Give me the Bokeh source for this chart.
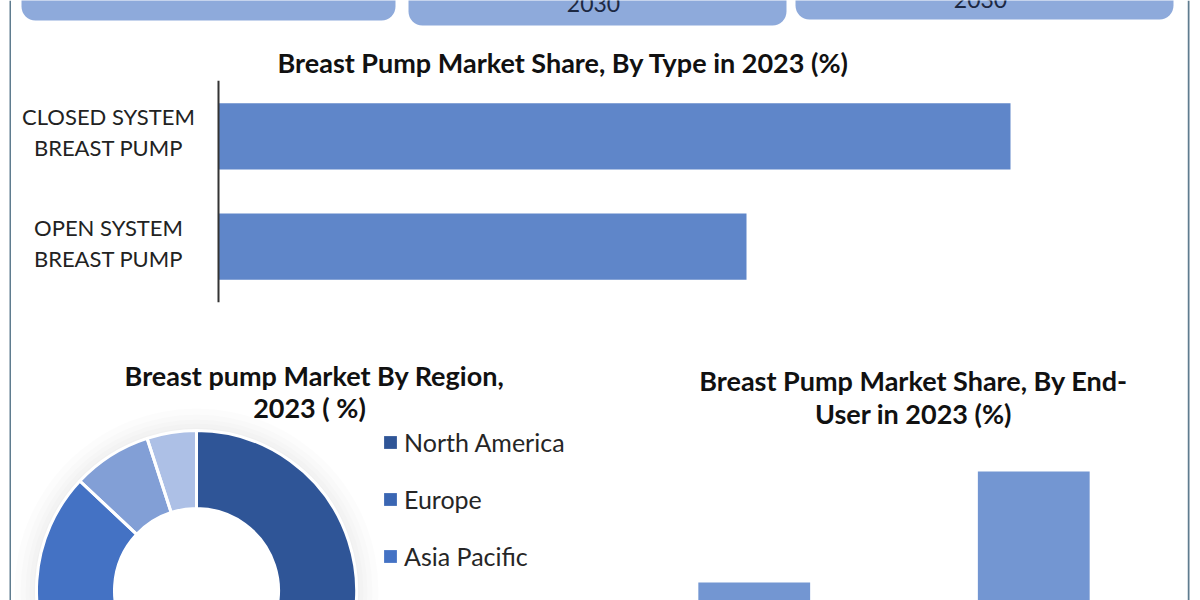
from bokeh.plotting import figure
from bokeh.layouts import row, column
from bokeh.models import (Range1d, FactorRange, BoxAnnotation, Label, Legend,
                          LegendItem, ColumnDataSource, Span)
from bokeh.embed import file_html
from bokeh.resources import INLINE
from bokeh.core.properties import value
import math

# ---------------- data ----------------
header_texts = ["", "2030", "2030"]

type_title = "Breast Pump Market Share, By Type in 2023 (%)"
type_categories = ["CLOSED SYSTEM\nBREAST PUMP", "OPEN SYSTEM\nBREAST PUMP"]
type_shares = [60, 40]

region_title = ["Breast pump Market By Region,", "2023 ( %)"]
region_names = ["North America", "Europe", "Asia Pacific",
                "Middle East & Africa", "South America"]
region_shares = [40, 25, 22, 8, 5]
region_colors = ["#2f5597", "#3a66b3", "#4472c4", "#829fd6", "#adc0e6"]

end_title = ["Breast Pump Market Share, By End-", "User in 2023 (%)"]
end_user_categories = ["Hospital", "Personal"]
end_user_shares = [35, 65]

FONT = "Lato"
BORDER = "#5f7c8f"
TITLE_SIZE = "27px"


def blank(fig):
    fig.grid.visible = False
    fig.outline_line_color = None
    fig.background_fill_color = "white"
    fig.border_fill_color = "white"
    return fig


def canvas(width, height, x_range, y_range, **kw):
    return blank(figure(width=width, height=height, x_range=x_range, y_range=y_range,
                        x_axis_location=None, y_axis_location=None, min_border=0,
                        toolbar_location=None, output_backend="svg", **kw))


# ---------------- side borders ----------------
left_fig = canvas(11, 600, Range1d(0, 11), Range1d(0, 600))
left_fig.add_layout(Span(location=10, dimension="height", line_color=BORDER, line_width=2))

right_fig = canvas(13, 600, Range1d(1187, 1200), Range1d(0, 600))
right_fig.add_layout(Span(location=1188, dimension="height", line_color=BORDER, line_width=2))

# ---------------- header boxes + type title ----------------
top = canvas(1176, 80, Range1d(11, 1187), Range1d(80, 0))
box_edges = [(21, 395, 20), (408, 786, 25), (795, 1173, 19)]
text_drop = [0, 22, 20]
for (l, r, b), t, d in zip(box_edges, header_texts, text_drop):
    top.add_layout(BoxAnnotation(left=l, right=r, top=-40, bottom=b, fill_color="#8eaadb",
                                 fill_alpha=1, line_color=None, border_radius=14))
    if t:
        top.add_layout(Label(x=(l + r) / 2 - 4, y=b - d, text=t, text_align="center",
                             text_baseline="alphabetic", text_font=FONT,
                             text_font_size="23px", text_color="#1c2842"))
top.add_layout(Label(x=563, y=62, text=type_title, text_align="center", text_baseline="middle",
                     text_font=FONT, text_font_style="bold", text_font_size=TITLE_SIZE,
                     text_color="#111111"))

# ---------------- horizontal bar chart by type ----------------
px_per_unit = 13.2
ptype = blank(figure(width=1176, height=250,
                     x_range=Range1d(-207 / px_per_unit, 969 / px_per_unit),
                     y_range=FactorRange(factors=list(reversed(type_categories)),
                                         range_padding=0.005, range_padding_units="absolute"),
                     x_axis_location=None, y_axis_location=None,
                     min_border_left=0, min_border_right=0,
                     min_border_top=0, min_border_bottom=28,
                     toolbar_location=None, output_backend="svg"))
ptype.hbar(y=type_categories, right=type_shares, left=0, height=0.6,
           fill_color="#5f86c9", line_color=None)
ptype.add_layout(Span(location=0, dimension="height", line_color="#333333", line_width=2))
ptype.text(x=0, y=type_categories, text=type_categories, x_offset=-110, y_offset=-4,
           text_align="center", text_baseline="middle", text_line_height=1.15,
           text_font=value(FONT), text_font_size="22px", text_color="#222222")

# ---------------- donut by region ----------------
pd_ = canvas(589, 270, Range1d(-185, 404), Range1d(-10, 260))
total = sum(region_shares)
starts, ends, cum = [], [], 0
for s in region_shares:
    starts.append(math.pi / 2 - 2 * math.pi * cum / total)
    cum += s
    ends.append(math.pi / 2 - 2 * math.pi * cum / total)
src = ColumnDataSource(dict(name=region_names, share=region_shares, start=starts, end=ends,
                            color=region_colors))
# soft diffuse shadow around the ring
for rr in [163, 167, 171, 176, 182]:
    pd_.annulus(x=0, y=0, inner_radius=155, outer_radius=rr, fill_color="#000000",
                fill_alpha=0.011, line_color=None)
wedges = pd_.annular_wedge(x=0, y=0, inner_radius=82, outer_radius=160, start_angle="start",
                           end_angle="end", direction="clock", fill_color="color",
                           line_color=None, source=src)
pd_.annular_wedge(x=0, y=0, inner_radius=82, outer_radius=160, start_angle="start",
                  end_angle="end", direction="clock", fill_alpha=0,
                  line_color="white", line_width=3, source=src)
pd_.add_layout(Label(x=118, y=215, text=region_title[0], text_align="center",
                     text_baseline="middle", text_font=FONT, text_font_style="bold",
                     text_font_size=TITLE_SIZE, text_color="#111111"))
pd_.add_layout(Label(x=113, y=183, text=region_title[1], text_align="center",
                     text_baseline="middle", text_font=FONT, text_font_style="bold",
                     text_font_size=TITLE_SIZE, text_color="#111111"))
legend = Legend(items=[LegendItem(label=n, renderers=[wedges], index=i)
                       for i, n in enumerate(region_names)],
                location=(371, -85), orientation="vertical",
                glyph_width=16, glyph_height=16, label_height=20, label_standoff=6,
                spacing=27, padding=0, margin=0,
                label_text_font=FONT, label_text_font_size="25px",
                label_text_color="#262626",
                background_fill_alpha=0, border_line_color=None)
pd_.add_layout(legend)

# ---------------- vertical bar chart by end-user ----------------
pe = canvas(587, 270,
            FactorRange(factors=end_user_categories, range_padding=0.05,
                        range_padding_units="absolute"),
            Range1d(30.1, 103.1))
pe.vbar(x=end_user_categories, top=end_user_shares, bottom=0, width=0.4,
        fill_color="#7396d2", line_color=None)
pe.add_layout(Label(x=313, y=220, x_units="screen", y_units="screen", text=end_title[0],
                    text_align="center", text_baseline="middle", text_font=FONT,
                    text_font_style="bold", text_font_size=TITLE_SIZE, text_color="#111111"))
pe.add_layout(Label(x=313, y=187, x_units="screen", y_units="screen", text=end_title[1],
                    text_align="center", text_baseline="middle", text_font=FONT,
                    text_font_style="bold", text_font_size=TITLE_SIZE, text_color="#111111"))

layout = row(left_fig, column(top, ptype, row(pd_, pe)), right_fig)

open("out.html", "w").write(file_html(layout, INLINE))
